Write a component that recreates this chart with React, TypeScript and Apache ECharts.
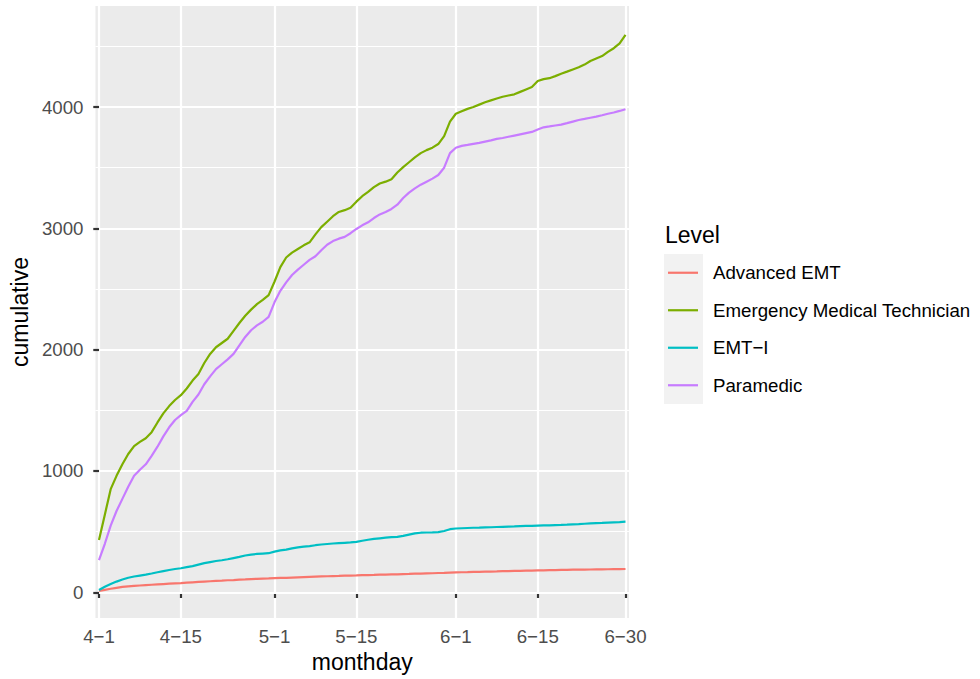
import React, { useEffect, useRef } from "react";
import * as echarts from "echarts";

const days: string[] = [
  "4-1","4-2","4-3","4-4","4-5","4-6","4-7","4-8","4-9","4-10",
  "4-11","4-12","4-13","4-14","4-15","4-16","4-17","4-18","4-19","4-20",
  "4-21","4-22","4-23","4-24","4-25","4-26","4-27","4-28","4-29","4-30",
  "5-1","5-2","5-3","5-4","5-5","5-6","5-7","5-8","5-9","5-10",
  "5-11","5-12","5-13","5-14","5-15","5-16","5-17","5-18","5-19","5-20",
  "5-21","5-22","5-23","5-24","5-25","5-26","5-27","5-28","5-29","5-30","5-31",
  "6-1","6-2","6-3","6-4","6-5","6-6","6-7","6-8","6-9","6-10",
  "6-11","6-12","6-13","6-14","6-15","6-16","6-17","6-18","6-19","6-20",
  "6-21","6-22","6-23","6-24","6-25","6-26","6-27","6-28","6-29","6-30",
];

const xTickDays: string[] = ["4-1", "4-15", "5-1", "5-15", "6-1", "6-15", "6-30"];
const yMajorTicks: number[] = [0, 1000, 2000, 3000, 4000];
const yMinorTicks: number[] = [500, 1500, 2500, 3500, 4500];

const levels: string[] = ["Advanced EMT", "Emergency Medical Technician", "EMT\u2212I", "Paramedic"];
const levelColors: string[] = ["#F8766D", "#7CAE00", "#00BFC4", "#C77CFF"];

const advancedEMT: number[] = [
  11,20,29,37,44,49,53,56,59,62,
  65,68,71,74,76,79,82,85,88,91,
  94,96,99,101,104,106,109,111,113,114,
  116,118,119,121,123,125,127,129,131,132,
  134,135,137,138,139,141,142,143,145,146,
  147,148,150,151,153,154,156,157,159,160,162,
  164,165,166,168,169,170,171,172,174,175,
  176,177,178,179,180,181,182,183,184,185,
  186,186,187,188,189,189,190,191,191,192,
];

const emt: number[] = [
  430,640,850,960,1055,1140,1205,1240,1270,1320,
  1400,1475,1535,1585,1625,1680,1745,1800,1890,1965,
  2020,2055,2090,2155,2220,2280,2330,2375,2410,2450,
  2560,2680,2760,2800,2830,2860,2885,2950,3010,3055,
  3100,3135,3150,3170,3220,3265,3300,3340,3370,3385,
  3405,3460,3505,3545,3585,3620,3645,3665,3695,3760,3880,
  3945,3965,3985,4000,4020,4040,4055,4070,4085,4095,
  4105,4125,4145,4165,4215,4230,4238,4255,4275,4292,
  4310,4328,4350,4380,4400,4420,4455,4485,4525,4594,
];

const emtI: number[] = [
  19,45,68,88,105,120,130,138,146,155,
  165,175,184,192,198,207,216,228,240,249,
  258,264,272,282,292,303,311,316,319,322,
  335,345,352,362,370,376,381,388,394,398,
  402,405,408,411,415,425,433,440,445,450,
  454,457,465,475,485,491,493,494,496,505,520,
  526,528,530,532,533,535,536,538,540,542,
  543,545,547,548,550,551,552,554,555,557,
  560,562,565,568,570,572,575,577,579,582,
];

const paramedic: number[] = [
  266,400,550,670,770,870,960,1010,1055,1125,
  1200,1285,1360,1420,1460,1495,1570,1630,1715,1780,
  1840,1880,1920,1965,2035,2105,2160,2200,2230,2270,
  2390,2485,2555,2615,2660,2700,2740,2770,2820,2865,
  2895,2915,2930,2960,2995,3025,3050,3085,3115,3135,
  3160,3195,3250,3295,3330,3360,3385,3410,3440,3500,3620,
  3665,3680,3688,3697,3705,3715,3725,3738,3745,3755,
  3765,3775,3785,3795,3815,3833,3840,3848,3855,3867,
  3880,3893,3902,3912,3921,3932,3945,3955,3968,3982,
];

const seriesValues: number[][] = [advancedEMT, emt, emtI, paramedic];

const FONT = "'Liberation Sans', Arial, Helvetica, sans-serif";
const minus = (s: string) => s.replace(/-/g, "\u2212");

export default function App() {
  const ref = useRef<HTMLDivElement>(null);

  useEffect(() => {
    if (!ref.current) return;
    const chart = echarts.init(ref.current, undefined, { renderer: "svg" });
    const xTickIdx = xTickDays.map((d) => days.indexOf(d));

    const option: any = {
      animation: false,
      backgroundColor: "#FFFFFF",
      textStyle: { fontFamily: FONT },
      grid: {
        left: 94,
        right: 351,
        top: 6,
        bottom: 61,
        show: true,
        backgroundColor: "#EBEBEB",
        borderWidth: 0,
        containLabel: false,
      },
      xAxis: {
        type: "value",
        min: -0.6,
        max: days.length - 1 + 0.6,
        name: "monthday",
        nameLocation: "middle",
        nameGap: 32,
        nameTextStyle: { fontSize: 23, color: "#000000", fontFamily: FONT },
        axisLine: { show: false },
        axisTick: {
          show: true,
          customValues: xTickIdx,
          length: 5.7,
          lineStyle: { color: "#333333", width: 2.2 },
        },
        axisLabel: {
          customValues: xTickIdx,
          formatter: (v: number) => minus(days[Math.round(v)] ?? ""),
          fontSize: 18.7,
          color: "#4D4D4D",
          margin: 9,
          fontFamily: FONT,
        },
        splitLine: { show: true, lineStyle: { color: "#FFFFFF", width: 2.2 } },
      },
      yAxis: [
        {
          type: "value",
          min: -212,
          max: 4833,
          name: "cumulative",
          nameLocation: "middle",
          nameGap: 60,
          nameTextStyle: { fontSize: 23, color: "#000000", fontFamily: FONT },
          axisLine: { show: false },
          axisTick: {
            show: true,
            customValues: yMajorTicks,
            length: 5.7,
            lineStyle: { color: "#333333", width: 2.2 },
          },
          axisLabel: {
            customValues: yMajorTicks,
            formatter: (v: number) => String(v),
            fontSize: 18.7,
            color: "#4D4D4D",
            margin: 12,
            fontFamily: FONT,
          },
          splitLine: { show: true, lineStyle: { color: "#FFFFFF", width: 2.2 } },
          z: 1,
        },
        {
          type: "value",
          min: -212,
          max: 4833,
          position: "left",
          axisLine: { show: false },
          axisTick: { show: false, customValues: yMinorTicks },
          axisLabel: { show: false, customValues: yMinorTicks },
          splitLine: { show: true, lineStyle: { color: "#FFFFFF", width: 1.1 } },
          z: 0,
        },
      ],
      legend: {
        orient: "vertical",
        left: 668,
        top: 254,
        padding: 0,
        itemWidth: 30,
        itemHeight: 37.5,
        itemGap: 0,
        selectedMode: false,
        icon: "path://M0,0 L30,0 L30,2.2 L0,2.2 Z",
        data: levels,
        textStyle: {
          fontSize: 18.7,
          lineHeight: 37.5,
          color: "#000000",
          fontFamily: FONT,
          padding: [0, 0, 0, 10],
        },
      },
      graphic: [
        {
          type: "rect",
          z: 0,
          shape: { x: 664, y: 254, width: 39, height: 150 },
          style: { fill: "#F2F2F2" },
        },
        {
          type: "text",
          z: 1,
          x: 665,
          y: 235,
          style: {
            text: "Level",
            fontSize: 23,
            fontFamily: FONT,
            fill: "#000000",
            textVerticalAlign: "middle",
            verticalAlign: "middle",
          },
        },
      ],
      series: levels.map((name, k) => ({
        name,
        type: "line",
        yAxisIndex: 0,
        symbol: "none",
        smooth: false,
        color: levelColors[k],
        lineStyle: { color: levelColors[k], width: 2.2 },
        data: seriesValues[k].map((v, i) => [i, v]),
        z: 3,
      })),
    };

    chart.setOption(option);
    return () => chart.dispose();
  }, []);

  return (
    <div
      ref={ref}
      style={{ position: "fixed", left: 0, top: 0, width: 980, height: 679 }}
    />
  );
}
